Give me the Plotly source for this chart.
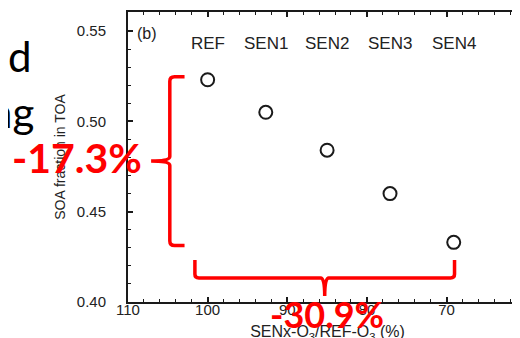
import plotly.graph_objects as go

# ---- data ----
runs = ["REF", "SEN1", "SEN2", "SEN3", "SEN4"]
o3_ratio = [100.0, 92.7, 85.0, 77.1, 69.1]      # SENx-O3/REF-O3 (%)
soa_frac = [0.523, 0.505, 0.484, 0.460, 0.433]  # SOA fraction in TOA
x_ticks = [110, 100, 90, 80, 70, 60]
y_ticks = [0.40, 0.45, 0.50, 0.55]
soa_change_label = "-17.3%"
o3_change_label = "-30.9%"

AX = "#1a1a1a"
RED = "#ff0000"
CHART_FONT = "Liberation Sans"
SLIDE_FONT = "Lato"

fig = go.Figure()
fig.add_trace(go.Scatter(
    x=o3_ratio, y=soa_frac, mode="markers",
    marker=dict(symbol="circle-open", size=13, color=AX, line=dict(width=2, color=AX)),
    showlegend=False, cliponaxis=False,
))

# run labels above each point
for name, xv in zip(runs, o3_ratio):
    fig.add_annotation(x=xv, y=0.5433, xref="x", yref="y", text=name, showarrow=False,
                       xanchor="center", yanchor="middle",
                       font=dict(family=CHART_FONT, size=17, color="#222"))

# panel label
fig.add_annotation(x=0.048, y=0.925, xref="paper", yref="paper", text="(b)", showarrow=False,
                   xanchor="center", yanchor="middle",
                   font=dict(family=CHART_FONT, size=16, color="#222"))

# ---- red braces, derived from the data extremes ----
y_top = soa_frac[0] + 0.0017
y_bot = soa_frac[-1] - 0.0017
y_mid = (y_top + y_bot) / 2
bx = o3_ratio[0] + 4.75      # vertical brace line
bh = o3_ratio[0] + 2.9       # hook ends
bt = o3_ratio[0] + 7.1       # middle point
r = 0.6
ry = 0.0025
left_path = (f"M {bh},{y_top} L {bx - r},{y_top} Q {bx},{y_top} {bx},{y_top - ry} "
             f"L {bx},{y_mid + ry} Q {bx},{y_mid} {bt},{y_mid} "
             f"M {bt},{y_mid} Q {bx},{y_mid} {bx},{y_mid - ry} "
             f"L {bx},{y_bot + ry} Q {bx},{y_bot} {bx - r},{y_bot} L {bh},{y_bot}")
fig.add_shape(type="path", path=left_path, xref="x", yref="y",
              line=dict(color=RED, width=3.5))

xl = o3_ratio[0] + 1.6
xr = o3_ratio[-1] - 0.1
xm = (xl + xr) / 2
yh = 0.4133
ye = 0.4232
yt = 0.4033
rx = 0.5
ry2 = 0.002
bottom_path = (f"M {xl},{ye} L {xl},{yh + ry2} Q {xl},{yh} {xl - rx},{yh} "
               f"L {xm + rx},{yh} Q {xm},{yh} {xm},{yt} "
               f"M {xm},{yt} Q {xm},{yh} {xm - rx},{yh} "
               f"L {xr + rx},{yh} Q {xr},{yh} {xr},{yh + ry2} L {xr},{ye}")
fig.add_shape(type="path", path=bottom_path, xref="x", yref="y",
              line=dict(color=RED, width=3.5))

fig.add_annotation(x=-0.129, y=0.497, xref="paper", yref="paper", text=f"<b>{soa_change_label}</b>",
                   showarrow=False, xanchor="center", yanchor="middle",
                   font=dict(family=SLIDE_FONT, size=41, color=RED))
fig.add_annotation(x=0.4987, y=-0.040, xref="paper", yref="paper", text=f"<b>{o3_change_label}</b>",
                   showarrow=False, xanchor="center", yanchor="middle",
                   font=dict(family=SLIDE_FONT, size=36, color=RED))

# slide text partially hidden behind the figure
fig.add_annotation(x=-0.236, y=0.85, xref="paper", yref="paper", text="d", showarrow=False,
                   xanchor="right", yanchor="middle", font=dict(family=SLIDE_FONT, size=42, color="#000"))
fig.add_annotation(x=-0.230, y=0.655, xref="paper", yref="paper", text="ng", showarrow=False,
                   xanchor="right", yanchor="middle", font=dict(family=SLIDE_FONT, size=42, color="#000"))

fig.update_xaxes(
    range=[110, 59.9], tickvals=x_ticks, ticktext=[str(v) for v in x_ticks],
    ticks="inside", ticklen=5, tickwidth=1.5, tickcolor=AX,
    minor=dict(ticks="inside", ticklen=3, dtick=2, tickcolor=AX, tickwidth=1.2),
    showline=True, linewidth=2, linecolor=AX, mirror="allticks",
    showgrid=False, zeroline=False,
    tickfont=dict(family=CHART_FONT, size=15, color="#222"),
    ticklabelstandoff=-7, ticklabeloverflow="allow",
    title=dict(text="SENx-O<sub>3</sub>/REF-O<sub>3</sub> (%)", standoff=9,
               font=dict(family=CHART_FONT, size=16, color="#222")),
)
fig.update_yaxes(
    range=[0.40, 0.5605], tickvals=y_ticks, ticktext=[f"{v:.2f}" for v in y_ticks],
    ticks="inside", ticklen=5, tickwidth=1.5, tickcolor=AX,
    minor=dict(ticks="inside", ticklen=3, dtick=0.01, tickcolor=AX, tickwidth=1.2),
    showline=True, linewidth=2, linecolor=AX, mirror="allticks",
    showgrid=False, zeroline=False,
    tickfont=dict(family="Liberation Sans Narrow, Liberation Sans", size=15, color="#222"),
    ticklabelstandoff=17, ticklabeloverflow="allow",
    title=dict(text="SOA fraction in TOA", standoff=8,
               font=dict(family=CHART_FONT, size=14, color="#222")),
)

fig.update_layout(
    width=520, height=338,
    margin=dict(l=120, r=1, t=4, b=44, autoexpand=False),
    paper_bgcolor="white", plot_bgcolor="white",
)

fig.write_html("out.html")
